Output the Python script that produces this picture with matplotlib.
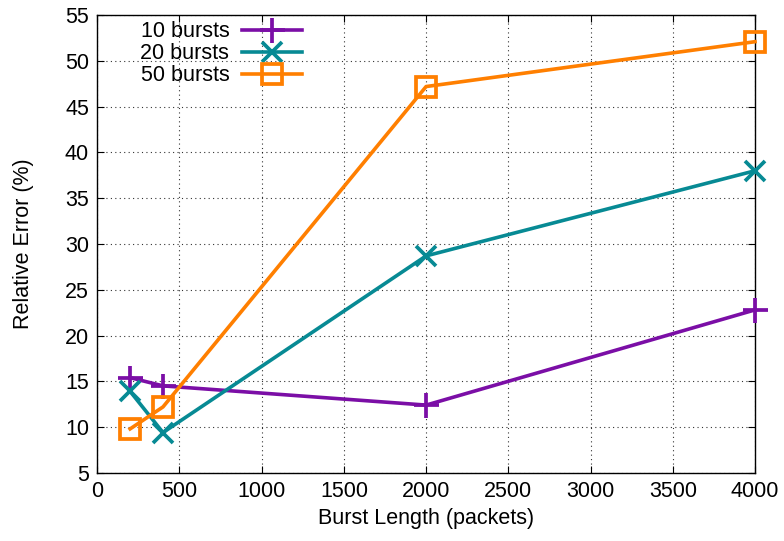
import matplotlib
matplotlib.use("Agg")
import matplotlib.pyplot as plt

burst_len = [200, 400, 2000, 4000]
err_10 = [15.4, 14.5, 12.4, 22.8]
err_20 = [13.9, 9.4, 28.7, 38.0]
err_50 = [9.8, 12.2, 47.2, 52.1]

SERIES = [  # (label, values, color, marker, size)
    ("10 bursts", err_10, "#7b0ea6", "+", 18),
    ("20 bursts", err_20, "#078a94", "x", 15),
    ("50 bursts", err_50, "#ff7f00", "s", 15),
]

plt.rcParams["font.family"] = ["Liberation Sans", "DejaVu Sans"]
FS = 15.5

fig = plt.figure(figsize=(7.84, 5.41), dpi=100)
ax = fig.add_axes([0.124, 0.126, 0.839, 0.846])

for label, vals, color, marker, ms in SERIES:
    face = "none" if marker == "s" else color
    ax.plot(burst_len, vals, color=color, lw=2.6, marker=marker, ms=ms,
            mew=2.7, mfc=face, label=label, clip_on=False, zorder=3)

ax.set_xlim(0, 4000)
ax.set_ylim(5, 55)
ax.set_xticks(range(0, 4001, 500))
ax.set_yticks(range(5, 56, 5))
ax.grid(True, ls=(0, (1, 3)), color="black", lw=0.8, alpha=0.8)
ax.tick_params(direction="in", top=True, right=True, labelsize=FS, length=5, pad=6)
for s in ax.spines.values():
    s.set_linewidth(1.0)
ax.set_xlabel("Burst Length (packets)", fontsize=FS, labelpad=4)
ax.set_ylabel("Relative Error (%)", fontsize=FS, labelpad=22)

leg = ax.legend(loc="upper left", bbox_to_anchor=(0.046, 1.015), frameon=False,
                fontsize=FS, markerfirst=False, handlelength=2.8,
                labelspacing=0.05, handletextpad=0.6, borderaxespad=0.2)

fig.savefig("out.png", dpi=100)
